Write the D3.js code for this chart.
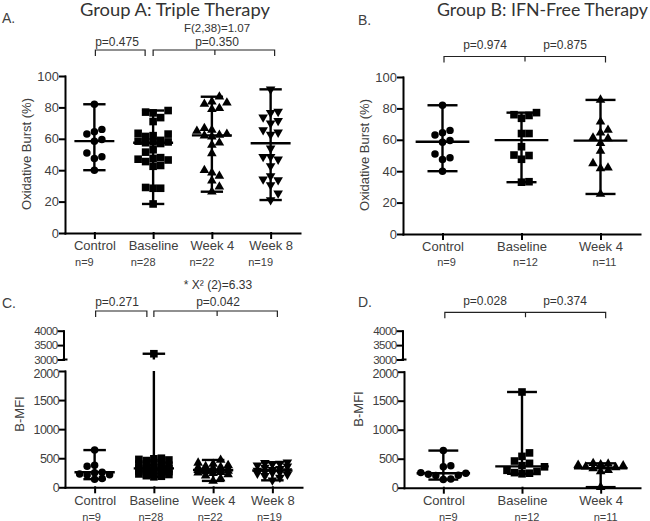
<!DOCTYPE html>
<html>
<head>
<meta charset="utf-8">
<script src="https://cdn.jsdelivr.net/npm/d3@7"></script>
<style>
body { margin: 0; background: #fff; }
svg text { font-family: "Liberation Sans", Arial, sans-serif; fill: #404040; }
.axis path, .axis line { stroke: #000; stroke-width: 2; stroke-linecap: square; }
.axis text { font-size: 13px; fill: #404040; font-family: "Liberation Sans", Arial, sans-serif; }
.title { font-family: Lato, "Open Sans", sans-serif; font-size: 17px; fill: #333; }
.note { font-size: 12px; fill: #333; }
.count { font-size: 11px; fill: #404040; }
.bracket { stroke: #222; stroke-width: 1.2; fill: none; }
.range { stroke: #000; stroke-width: 2.4; }
</style>
</head>
<body>
<script>

// categories and group sizes
var groupACats = ["Control", "Baseline", "Week 4", "Week 8"];
var groupACounts = ["n=9", "n=28", "n=22", "n=19"];
var groupBCats = ["Control", "Baseline", "Week 4"];
var groupBCounts = ["n=9", "n=12", "n=11"];

// oxidative burst (%)
var burstControl = [82, 66, 64.5, 63, 59.5, 58.5, 51, 48.5, 47.5, 40];
var burstABaseline = [78, 77, 76.5, 73.5, 71, 63.5, 63, 62, 61.5, 59, 58.5, 58, 58, 57.5, 57,
                      53, 51.5, 48, 47.5, 47, 46.5, 45.5, 43, 42.5, 29, 28.5, 28.5, 18.5];
var burstAWeek4 = [86.8, 83.6, 83, 82.2, 79.4, 78.8, 66.7, 65.6, 65, 63, 62.4, 62, 61.4, 57.5,
                   56, 50.7, 40, 38.4, 36.3, 33.3, 29.5, 26.3];
var burstAWeek8 = [91.5, 77.3, 76.6, 73.7, 71.5, 69.9, 65.6, 64.1, 62.8, 53.9, 48.6, 48.6,
                   46.9, 42.7, 36.3, 34.2, 33.8, 30.6, 25.3, 21];
var burstAMedian = [58.5, 57.5, 62.2, 57.2];
var burstBBaseline = [77.3, 76, 75.5, 73.7, 64, 64, 55.6, 50.3, 50, 47.6, 33.3, 33];
var burstBWeek4 = [85.4, 71.5, 66.2, 64.5, 61.3, 60.9, 57.8, 52.9, 45, 42.2, 41.8, 25.5];
var burstBMedian = [58.8, 59.8, 59.5];

// B-MFI
var mfiControl = [640, 380, 360, 260, 250, 230, 215, 210, 150, 140];
var mfiABaseline = [3200, 500, 490, 480, 470, 460, 450, 420, 400, 380, 360, 350, 340, 330,
                    320, 310, 300, 290, 280, 270, 260, 250, 240, 230, 220, 200, 190, 180];
var mfiAWeek4 = [470, 420, 400, 380, 360, 350, 340, 330, 320, 310, 300, 295, 290, 280, 270,
                 260, 250, 240, 220, 200, 150, 110];
var mfiAWeek8 = [430, 420, 410, 400, 380, 360, 340, 320, 300, 290, 280, 270, 260, 250, 240,
                 220, 200, 170, 120];
var mfiAMedian = [260, 325, 297, 290];
var mfiBBaseline = [1650, 600, 540, 460, 420, 380, 360, 300, 280, 260, 250, 240];
var mfiBWeek4 = [420, 410, 400, 390, 380, 360, 350, 330, 300, 280, 10];
var mfiBMedian = [250, 368, 335];

// tick labels
var burstTicks = [0, 20, 40, 60, 80, 100];
var mfiLowTicks = [0, 500, 1000, 1500, 2000];
var mfiHighTicks = [3000, 3500, 4000];

// texts
var titles = ["Group A: Triple Therapy", "Group B: IFN-Free Therapy"];
var panelLetters = ["A.", "B.", "C.", "D."];
var statsA = ["F(2,38)=1.07", "p=0.475", "p=0.350"];
var statsB = ["p=0.974", "p=0.875"];
var statsC = ["* X\u00b2 (2)=6.33", "p=0.271", "p=0.042"];
var statsD = ["p=0.028", "p=0.374"];

var shapes = [d3.symbolCircle, d3.symbolSquare, d3.symbolTriangle, d3.symbolTriangle];
var shapeSize = [44, 58, 40, 40];
var shapeFlip = [false, false, false, true];

var svg = d3.select("body").append("svg")
    .attr("width", 650)
    .attr("height", 521);

// spread points sideways like a dot plot so they do not sit on top of each other
function swarm(ys, size, maxOff) {
    var order = d3.range(ys.length).sort(function(a, b) { return ys[b] - ys[a]; });
    var placed = [], off = new Array(ys.length);
    var kMax = 2 * Math.floor(maxOff / size);
    order.forEach(function(i) {
        var best = 0, bestD = -1;
        for (var k = 0; k <= kMax; k++) {
            var c = (k % 2 ? 1 : -1) * Math.ceil(k / 2) * size;
            if (k == 0) c = 0;
            var d = d3.min(placed, function(p) { return Math.hypot(p[0] - c, p[1] - ys[i]); });
            if (d === undefined) d = Infinity;
            if (d >= size) { best = c; break; }
            if (d > bestD) { bestD = d; best = c; }
        }
        off[i] = best;
        placed.push([best, ys[i]]);
    });
    return off;
}

function drawPanel(cfg) {
    var x = d3.scalePoint().domain(cfg.cats).range(cfg.xRange).padding(0.5);
    var step = x.step();
    var yLow = d3.scaleLinear().domain(cfg.lowDomain).range(cfg.lowRange);
    var yHigh = cfg.highDomain ? d3.scaleLinear().domain(cfg.highDomain).range(cfg.highRange) : null;
    var yPos = function(v) {
        return (yHigh && v >= cfg.highDomain[0]) ? yHigh(v) : yLow(v);
    };
    var g = svg.append("g");

    // y axis (and the upper piece when the axis is broken)
    var left = g.append("g")
        .attr("class", "axis")
        .attr("transform", "translate(" + cfg.xRange[0] + ",0)")
        .call(d3.axisLeft(yLow).tickValues(cfg.lowTicks).tickFormat(d3.format("d"))
            .tickSize(5).tickSizeOuter(0).tickPadding(1));

    if (yHigh) {
        left.selectAll("text").style("font-size", "12.5px").attr("letter-spacing", "-0.6px");
        var up = g.append("g")
            .attr("class", "axis")
            .attr("transform", "translate(" + (cfg.xRange[0] - 1.5) + ",0)")
            .call(d3.axisLeft(yHigh).tickValues(cfg.highTicks).tickFormat(d3.format("d"))
                .tickSize(5).tickSizeOuter(0).tickPadding(1));
        up.append("line")
            .attr("x1", 0).attr("x2", 3)
            .attr("y1", yHigh(cfg.highDomain[0])).attr("y2", yHigh(cfg.highDomain[0]));
        up.selectAll("text").style("font-size", "11.5px").attr("letter-spacing", "-0.6px");
        // bring the 2000 label a touch lower so it clears 3000
        left.selectAll(".tick text").filter(function(d) { return d == cfg.lowDomain[1]; })
            .attr("dy", "0.5em");
    }

    // x axis
    g.append("g")
        .attr("class", "axis")
        .attr("transform", "translate(0," + cfg.lowRange[0] + ")")
        .call(d3.axisBottom(x).tickSize(5).tickSizeOuter(0).tickPadding(3));

    // group sizes under the categories
    g.selectAll(".count")
        .data(cfg.counts)
        .enter().append("text")
        .attr("class", "count")
        .attr("x", function(d, i) { return x(cfg.cats[i]) + cfg.countShift; })
        .attr("y", cfg.countY)
        .attr("text-anchor", "middle")
        .text(function(d) { return d; });

    // y label
    g.append("text")
        .attr("transform", "translate(" + cfg.yLabelPos[0] + "," + cfg.yLabelPos[1] + ") rotate(-90)")
        .attr("text-anchor", "middle")
        .attr("dy", "0.35em")
        .style("font-size", "13px")
        .text(cfg.yLabel);

    // points, median and range for each category
    cfg.series.forEach(function(vals, i) {
        var cx = x(cfg.cats[i]);
        var ys = vals.map(yPos);
        var offs = swarm(ys, cfg.dotStep, step * 0.3);
        var sym = d3.symbol().type(shapes[i]).size(shapeSize[i]);

        g.selectAll(".pt" + i)
            .data(vals)
            .enter().append("path")
            .attr("d", sym)
            .attr("fill", "#000")
            .attr("transform", function(d, j) {
                return "translate(" + (cx + offs[j]) + "," + ys[j] + ")" + (shapeFlip[i] ? " rotate(180)" : "");
            });

        var ext = d3.extent(vals);
        var capW = step * 0.19, medW = step * 0.34;
        if (yHigh && ext[1] >= cfg.highDomain[0]) {
            g.append("line").attr("class", "range")
                .attr("x1", cx).attr("x2", cx)
                .attr("y1", yLow(ext[0])).attr("y2", yLow(cfg.lowDomain[1]));
            g.append("line").attr("class", "range")
                .attr("x1", cx).attr("x2", cx)
                .attr("y1", yHigh(cfg.highDomain[0])).attr("y2", yHigh(ext[1]));
        } else {
            g.append("line").attr("class", "range")
                .attr("x1", cx).attr("x2", cx)
                .attr("y1", yPos(ext[0])).attr("y2", yPos(ext[1]));
        }
        ext.forEach(function(v) {
            g.append("line").attr("class", "range")
                .attr("x1", cx - capW).attr("x2", cx + capW)
                .attr("y1", yPos(v)).attr("y2", yPos(v));
        });
        g.append("line").attr("class", "range")
            .attr("x1", cx - medW).attr("x2", cx + medW)
            .attr("y1", yPos(cfg.medians[i])).attr("y2", yPos(cfg.medians[i]));
    });

    // significance brackets
    cfg.brackets.forEach(function(b) {
        var x1 = x(cfg.cats[b[0]]) + b[1], x2 = x(cfg.cats[b[2]]) + b[3];
        var p = "M" + x1 + "," + (cfg.bracketY + 6) + "V" + cfg.bracketY + "H" + x2 + "V" + (cfg.bracketY + 6);
        if (b.length > 4) {
            var xm = x(cfg.cats[b[4]]) + b[5];
            p += "M" + xm + "," + cfg.bracketY + "V" + (cfg.bracketY + 5);
        }
        g.append("path").attr("class", "bracket").attr("d", p);
    });

    g.selectAll(".note")
        .data(cfg.notes)
        .enter().append("text")
        .attr("class", "note")
        .attr("text-anchor", "middle")
        .attr("x", function(d) { return d[1]; })
        .attr("y", function(d) { return d[2]; })
        .style("font-size", function(d) { return d[3] || null; })
        .text(function(d) { return d[0]; });

    g.append("text")
        .attr("x", cfg.letterPos[0])
        .attr("y", cfg.letterPos[1])
        .style("font-size", "14px")
        .text(cfg.letter);
}

drawPanel({
    cats: groupACats, counts: groupACounts, countShift: -10, countY: 266,
    series: [burstControl, burstABaseline, burstAWeek4, burstAWeek8], medians: burstAMedian,
    xRange: [65, 300], lowDomain: [0, 100], lowRange: [233, 76], lowTicks: burstTicks,
    yLabel: "Oxidative Burst (%)", yLabelPos: [26, 154], dotStep: 7.5,
    bracketY: 50, brackets: [[0, 1, 1, -8], [1, 0, 3, 4, 2, 3]],
    notes: [[statsA[0], 217, 31.5, "11.5px"], [statsA[1], 117, 45.5], [statsA[2], 217, 45.5]],
    letter: panelLetters[0], letterPos: [2, 23]
});

drawPanel({
    cats: groupBCats, counts: groupBCounts, countShift: 4, countY: 266,
    series: [burstControl, burstBBaseline, burstBWeek4], medians: burstBMedian,
    xRange: [403, 640], lowDomain: [0, 100], lowRange: [234, 77], lowTicks: burstTicks,
    yLabel: "Oxidative Burst (%)", yLabelPos: [364, 155], dotStep: 7.5,
    bracketY: 56.5, brackets: [[0, 1.5, 2, 5, 1, 3.5]],
    notes: [[statsB[0], 485, 49], [statsB[1], 565, 49]],
    letter: panelLetters[1], letterPos: [358, 25]
});

drawPanel({
    cats: groupACats, counts: groupACounts, countShift: -3, countY: 520.5,
    series: [mfiControl, mfiABaseline, mfiAWeek4, mfiAWeek8], medians: mfiAMedian,
    xRange: [65, 302], lowDomain: [0, 2000], lowRange: [487.3, 371], lowTicks: mfiLowTicks,
    highDomain: [3000, 4000], highRange: [359.5, 330.7], highTicks: mfiHighTicks,
    yLabel: "B-MFI", yLabelPos: [19, 414], dotStep: 7.5,
    bracketY: 311, brackets: [[0, 1, 1, -7], [1, 0, 3, 5, 2, 4]],
    notes: [[statsC[0], 218, 289], [statsC[1], 117, 305.5], [statsC[2], 218, 305.5]],
    letter: panelLetters[2], letterPos: [2, 308]
});

drawPanel({
    cats: groupBCats, counts: groupBCounts, countShift: 5, countY: 520.5,
    series: [mfiControl, mfiBBaseline, mfiBWeek4], medians: mfiBMedian,
    xRange: [404, 640], lowDomain: [0, 2000], lowRange: [487.7, 371.7], lowTicks: mfiLowTicks,
    highDomain: [3000, 4000], highRange: [359.5, 330.7], highTicks: mfiHighTicks,
    yLabel: "B-MFI", yLabelPos: [358, 409], dotStep: 7.5,
    bracketY: 312.3, brackets: [[0, 1.5, 2, 5, 1, 3.5]],
    notes: [[statsD[0], 485, 305], [statsD[1], 565, 305]],
    letter: panelLetters[3], letterPos: [358, 307]
});

// group titles
svg.append("text").attr("class", "title")
    .attr("x", 80).attr("y", 15.5)
    .attr("textLength", 190).attr("lengthAdjust", "spacingAndGlyphs")
    .text(titles[0]);
svg.append("text").attr("class", "title")
    .attr("x", 437).attr("y", 15.5)
    .attr("textLength", 211).attr("lengthAdjust", "spacingAndGlyphs")
    .text(titles[1]);

</script>
</body>
</html>
